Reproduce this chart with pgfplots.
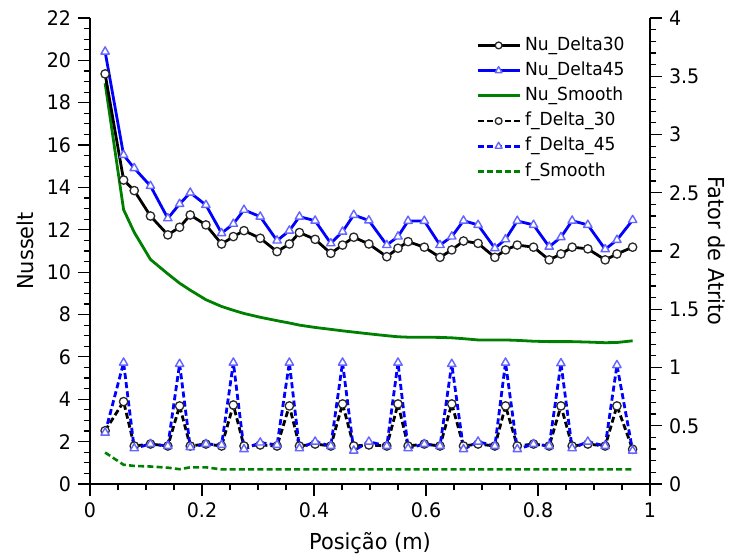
\documentclass[border=0pt]{standalone}
\usepackage{fontspec}
\setmainfont{DejaVu Sans}[FakeStretch=0.95]
\usepackage{pgfplots}
\pgfplotsset{compat=1.18}
\usepackage{pgfplotstable}

\definecolor{cgreen}{RGB}{0,128,0}
\definecolor{cblue}{RGB}{0,0,255}
\definecolor{tri}{RGB}{100,100,255}
\definecolor{circ}{RGB}{40,40,40}

\pgfplotstableread{
x nuA nuB nuS fA fB fS
0.027 19.36 20.41 18.92 0.457 0.440 0.270
0.060 14.35 15.53 12.95 0.707 1.041 0.165
0.079 13.85 14.91 11.88 0.326 0.306 0.155
0.108 12.65 14.07 10.60 0.343 0.343 0.150
0.139 11.76 12.54 9.92 0.326 0.326 0.140
0.160 12.12 13.22 9.48 0.670 1.030 0.127
0.179 12.70 13.75 9.15 0.326 0.315 0.143
0.207 12.23 13.17 8.70 0.343 0.343 0.143
0.235 11.33 11.84 8.38 0.326 0.335 0.125
0.256 11.68 12.28 8.20 0.678 1.041 0.125
0.275 11.96 12.94 8.05 0.326 0.298 0.125
0.304 11.60 12.62 7.87 0.335 0.355 0.125
0.334 10.97 11.49 7.71 0.326 0.335 0.125
0.356 11.33 11.96 7.60 0.670 1.041 0.125
0.374 11.87 12.62 7.50 0.326 0.306 0.125
0.402 11.55 12.43 7.39 0.343 0.363 0.125
0.430 10.89 11.36 7.30 0.326 0.326 0.125
0.451 11.28 11.91 7.23 0.687 1.041 0.125
0.471 11.65 12.70 7.17 0.326 0.286 0.125
0.498 11.33 12.44 7.09 0.335 0.363 0.125
0.530 10.73 11.28 7.00 0.326 0.326 0.125
0.550 11.13 11.68 6.95 0.687 1.041 0.125
0.568 11.44 12.42 6.93 0.326 0.306 0.125
0.597 11.18 12.42 6.93 0.343 0.343 0.125
0.625 10.70 11.28 6.92 0.326 0.326 0.125
0.646 11.05 11.68 6.90 0.687 1.030 0.125
0.667 11.47 12.43 6.86 0.326 0.298 0.125
0.693 11.36 12.23 6.80 0.343 0.363 0.125
0.723 10.70 11.13 6.80 0.326 0.326 0.125
0.742 11.05 11.55 6.80 0.670 1.041 0.125
0.763 11.28 12.42 6.78 0.326 0.298 0.125
0.792 11.18 12.23 6.74 0.343 0.343 0.125
0.820 10.58 11.20 6.72 0.326 0.326 0.125
0.841 10.86 11.65 6.72 0.670 1.036 0.125
0.861 11.18 12.43 6.72 0.326 0.306 0.125
0.889 11.10 12.23 6.70 0.343 0.363 0.125
0.920 10.58 11.08 6.67 0.326 0.326 0.125
0.941 10.86 11.52 6.68 0.670 1.020 0.125
0.969 11.18 12.46 6.76 0.298 0.286 0.125
}\data

\pgfplotsset{
  base/.style={
    scale only axis, width=280pt, height=233pt,
    xmin=0, xmax=1,
    tick align=outside,
    major tick length=6pt, minor tick length=3.2pt,
    tick style={black, line width=0.6pt},
    axis line style={line width=0.7pt},
    ticklabel style={font=\fontsize{10}{12}\selectfont},
    /pgf/number format/assume math mode=true,
    label style={font=\fontsize{11}{13}\selectfont},
  },
  sA/.style={black, line width=1.4pt, line join=round, mark=*, mark size=#1, mark options={solid, fill=white, draw=circ, line width=0.65pt}},
  sB/.style={cblue, line width=1.4pt, line join=round, mark=triangle*, mark size=#1, mark options={solid, fill=white, draw=tri, line width=0.7pt}},
  sS/.style={cgreen, line width=1.4pt, line join=round},
  dA/.style={black, line width=1.4pt, line join=round, dash pattern=on 3pt off 1.6pt, mark=*, mark size=#1, mark options={solid, fill=white, draw=circ, line width=0.65pt}},
  dB/.style={cblue, line width=1.4pt, line join=round, dash pattern=on 3pt off 1.6pt, mark=triangle*, mark size=#1, mark options={solid, fill=white, draw=tri, line width=0.7pt}},
  dS/.style={cgreen, line width=1.3pt, dash pattern=on 3pt off 1.6pt},
}

\begin{document}
\begin{tikzpicture}
\begin{axis}[
  base,
  ymin=0, ymax=22,
  axis x line*=bottom, axis y line*=left,
  xtick={0,0.2,0.4,0.6,0.8,1}, minor x tick num=3,
  ytick={0,2,4,6,8,10,12,14,16,18,20,22}, minor y tick num=3,
  xlabel={Posição (m)}, ylabel={Nusselt},
  xlabel style={at={(axis description cs:0.5,-0.127)}, anchor=center},
  ylabel style={at={(axis description cs:-0.116,0.5)}, anchor=center},
]
\coordinate (ll) at (rel axis cs:0,0);
\coordinate (ur) at (rel axis cs:1,1);
\addplot[sS] table[x=x, y=nuS] {\data};
\addplot[sA=2.1pt] table[x=x, y=nuA] {\data};
\addplot[sB=2.4pt] table[x=x, y=nuB] {\data};
\end{axis}
\begin{axis}[
  base,
  ymin=0, ymax=4,
  axis x line=none, axis y line*=right,
  ytick={0,0.5,1,1.5,2,2.5,3,3.5,4}, minor y tick num=4,
  ylabel={Fator de Atrito},
  ylabel style={at={(axis description cs:1.12,0.5)}, anchor=center, rotate=180},
  legend style={at={(0.689,0.969)}, anchor=north west, draw=none, fill=none,
    inner sep=0pt, font=\fontsize{9}{10}\selectfont,
    nodes={inner sep=2pt, text height=6.6pt, text depth=2.0pt}},
  legend cell align=left,
  legend image code/.code={\draw[mark repeat=2, mark phase=2, #1] plot coordinates {(0pt,0pt) (10.5pt,0pt) (21pt,0pt)};},
]
\addlegendimage{sA=1.7pt}\addlegendentry{Nu\_Delta30}
\addlegendimage{sB=2.0pt}\addlegendentry{Nu\_Delta45}
\addlegendimage{sS}\addlegendentry{Nu\_Smooth}
\addlegendimage{dA=1.7pt}\addlegendentry{f\_Delta\_30}
\addlegendimage{dB=2.0pt}\addlegendentry{f\_Delta\_45}
\addlegendimage{dS}\addlegendentry{f\_Smooth}
\addplot[dS, forget plot] table[x=x, y=fS] {\data};
\addplot[dA=2.1pt, forget plot] table[x=x, y=fA] {\data};
\addplot[dB=2.4pt, forget plot] table[x=x, y=fB] {\data};
\end{axis}
\pgfresetboundingbox
\path ([shift={(-45pt,-37.5pt)}]ll) rectangle ([shift={(40pt,9pt)}]ur);
\end{tikzpicture}
\end{document}
